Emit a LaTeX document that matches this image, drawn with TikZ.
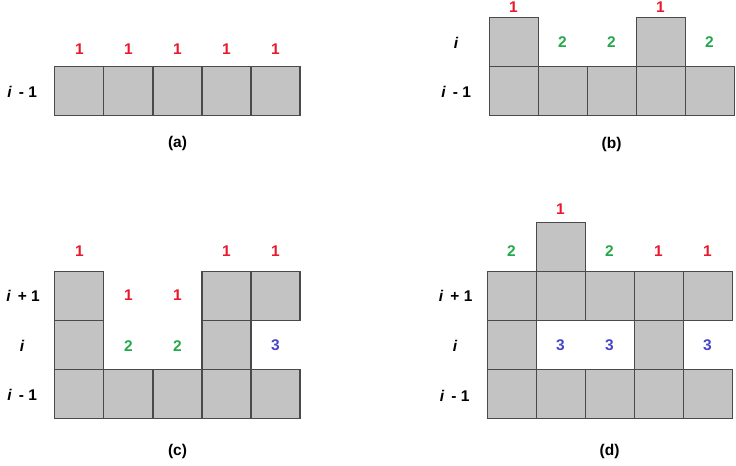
\documentclass[tikz,border=0pt]{standalone}
\usepackage{fontspec}
\setmainfont{Liberation Sans}
\usetikzlibrary{positioning}
\definecolor{cellgray}{HTML}{C3C3C3}
\definecolor{celledge}{HTML}{4A4A4A}
\definecolor{numred}{HTML}{E8192C}
\definecolor{numgreen}{HTML}{22A94B}
\definecolor{numblue}{HTML}{4545C8}
\tikzset{
    cell/.style={rectangle, draw=celledge, fill=cellgray, line width=0.6pt, minimum size=1cm, inner sep=0pt, outer sep=0pt},
    num_red/.style={text=numred, font=\fontsize{9}{11}\selectfont\bfseries, inner sep=0pt},
    num_green/.style={text=numgreen, font=\fontsize{9}{11}\selectfont\bfseries, inner sep=0pt},
    num_blue/.style={text=numblue, font=\fontsize{9}{11}\selectfont\bfseries, inner sep=0pt},
    row_label/.style={font=\fontsize{9}{11}\selectfont\bfseries, inner sep=0pt},
    caption/.style={font=\fontsize{9}{11}\selectfont\bfseries, inner sep=0pt}
}

\begin{document}
\begin{tikzpicture}
    \useasboundingbox (0,0) rectangle (15.02,-9.51);

    % (a)
    \begin{scope}[shift={(1.122,-2.367)}]
        \node (a_1) [cell] at (0.5,0.5) {};
        \node (a_2) [cell] at (1.5,0.5) {};
        \node (a_3) [cell] at (2.5,0.5) {};
        \node (a_4) [cell] at (3.5,0.5) {};
        \node (a_5) [cell] at (4.5,0.5) {};

        \node (la_1) [num_red] at (0.5,1.37) {1};
        \node (la_2) [num_red] at (1.5,1.37) {1};
        \node (la_3) [num_red] at (2.5,1.37) {1};
        \node (la_4) [num_red] at (3.5,1.37) {1};
        \node (la_5) [num_red] at (4.5,1.37) {1};

        \node (ra_0) [row_label] at (-0.67,0.5) {\textit{i}\, - 1};
        \node (cap_a) [caption] at (2.5,-0.57) {(a)};
    \end{scope}

    % (b)
    \begin{scope}[shift={(9.98,-2.367)}]
        \node (b_1) [cell] at (0.5,0.5) {};
        \node (b_2) [cell] at (1.5,0.5) {};
        \node (b_3) [cell] at (2.5,0.5) {};
        \node (b_4) [cell] at (3.5,0.5) {};
        \node (b_5) [cell] at (4.5,0.5) {};
        \node (b_6) [cell] at (0.5,1.5) {};
        \node (b_7) [cell] at (3.5,1.5) {};

        \node (lb_1) [num_red] at (0.5,2.22) {1};
        \node (lb_2) [num_green] at (1.5,1.51) {2};
        \node (lb_3) [num_green] at (2.5,1.51) {2};
        \node (lb_4) [num_red] at (3.5,2.22) {1};
        \node (lb_5) [num_green] at (4.5,1.51) {2};

        \node (rb_1) [row_label] at (-0.67,1.5) {\textit{i}};
        \node (rb_0) [row_label] at (-0.67,0.5) {\textit{i}\, - 1};
        \node (cap_b) [caption] at (2.5,-0.59) {(b)};
    \end{scope}

    % (c)
    \begin{scope}[shift={(1.122,-8.531)}]
        \node (c_1) [cell] at (0.5,0.5) {};
        \node (c_2) [cell] at (1.5,0.5) {};
        \node (c_3) [cell] at (2.5,0.5) {};
        \node (c_4) [cell] at (3.5,0.5) {};
        \node (c_5) [cell] at (4.5,0.5) {};
        \node (c_6) [cell] at (0.5,1.5) {};
        \node (c_7) [cell] at (3.5,1.5) {};
        \node (c_8) [cell] at (0.5,2.5) {};
        \node (c_9) [cell] at (3.5,2.5) {};
        \node (c_10) [cell] at (4.5,2.5) {};

        \node (lc_1) [num_red] at (0.5,3.41) {1};
        \node (lc_2) [num_red] at (3.5,3.41) {1};
        \node (lc_3) [num_red] at (4.5,3.41) {1};
        \node (lc_4) [num_red] at (1.5,2.5) {1};
        \node (lc_5) [num_red] at (2.5,2.5) {1};
        \node (lc_6) [num_green] at (1.5,1.47) {2};
        \node (lc_7) [num_green] at (2.5,1.47) {2};
        \node (lc_8) [num_blue] at (4.5,1.49) {3};

        \node (rc_2) [row_label] at (-0.65,2.5) {\textit{i}\, + 1};
        \node (rc_1) [row_label] at (-0.67,1.47) {\textit{i}};
        \node (rc_0) [row_label] at (-0.67,0.47) {\textit{i}\, - 1};
        \node (cap_c) [caption] at (2.5,-0.69) {(c)};
    \end{scope}

    % (d)
    \begin{scope}[shift={(9.939,-8.531)}]
        \node (d_1) [cell] at (0.5,0.5) {};
        \node (d_2) [cell] at (1.5,0.5) {};
        \node (d_3) [cell] at (2.5,0.5) {};
        \node (d_4) [cell] at (3.5,0.5) {};
        \node (d_5) [cell] at (4.5,0.5) {};
        \node (d_6) [cell] at (0.5,1.5) {};
        \node (d_7) [cell] at (3.5,1.5) {};
        \node (d_8) [cell] at (0.5,2.5) {};
        \node (d_9) [cell] at (1.5,2.5) {};
        \node (d_10) [cell] at (2.5,2.5) {};
        \node (d_11) [cell] at (3.5,2.5) {};
        \node (d_12) [cell] at (4.5,2.5) {};
        \node (d_13) [cell] at (1.5,3.5) {};

        \node (ld_1) [num_red] at (1.5,4.27) {1};
        \node (ld_2) [num_green] at (0.5,3.41) {2};
        \node (ld_3) [num_green] at (2.5,3.41) {2};
        \node (ld_4) [num_red] at (3.5,3.41) {1};
        \node (ld_5) [num_red] at (4.5,3.41) {1};
        \node (ld_6) [num_blue] at (1.5,1.49) {3};
        \node (ld_7) [num_blue] at (2.5,1.49) {3};
        \node (ld_8) [num_blue] at (4.5,1.49) {3};

        \node (rd_2) [row_label] at (-0.64,2.49) {\textit{i}\, + 1};
        \node (rd_1) [row_label] at (-0.65,1.47) {\textit{i}};
        \node (rd_0) [row_label] at (-0.66,0.45) {\textit{i}\, - 1};
        \node (cap_d) [caption] at (2.5,-0.69) {(d)};
    \end{scope}
\end{tikzpicture}
\end{document}
